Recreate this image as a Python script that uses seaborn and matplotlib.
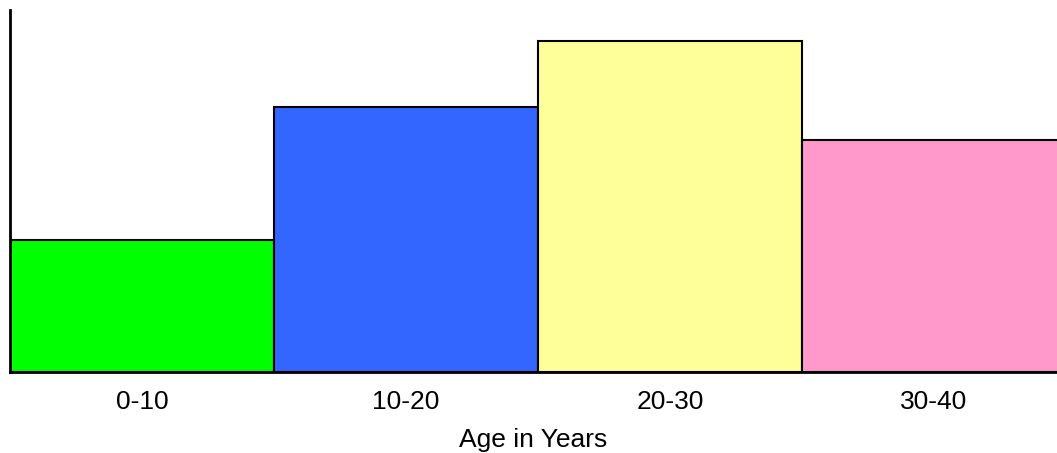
import matplotlib
matplotlib.use("Agg")
import matplotlib.pyplot as plt
import seaborn as sns
import pandas as pd

age_groups = ["0-10", "10-20", "20-30", "30-40"]
counts = [4, 8, 10, 7]
bar_colors = ["#00FF00", "#3366FF", "#FFFF99", "#FF99CC"]

df = pd.DataFrame({"Age": age_groups, "Count": counts})

sns.set_style("white")
plt.rcParams["font.family"] = ["Liberation Sans", "DejaVu Sans"]

fig = plt.figure(figsize=(10.57, 4.53), dpi=100)
ax = fig.add_axes([10 / 1057, 81 / 453, 1047 / 1057, 362 / 453])

sns.barplot(
    data=df,
    x="Age",
    y="Count",
    hue="Age",
    palette=bar_colors,
    legend=False,
    width=1.0,
    edgecolor="black",
    linewidth=1.5,
    saturation=1,
    ax=ax,
)

ax.set_xlim(-0.5, 3.466)
ax.set_ylim(0, 10.94)
# only the small marks inside the first bar are visible in the original
ax.set_yticks([1, 2, 3])
ax.set_yticklabels([])
ax.tick_params(axis="y", direction="in", length=2, width=1, color="#333333", left=True)
ax.tick_params(axis="x", length=0, pad=13, labelsize=19, labelcolor="black")

ax.set_xlabel("Age in Years", fontsize=19, labelpad=10, color="black")
ax.set_ylabel("")

sns.despine(ax=ax, top=True, right=True)
for side in ["left", "bottom"]:
    ax.spines[side].set_color("black")
    ax.spines[side].set_linewidth(2)
    ax.spines[side].set_zorder(5)

fig.savefig("out.png", dpi=100)
